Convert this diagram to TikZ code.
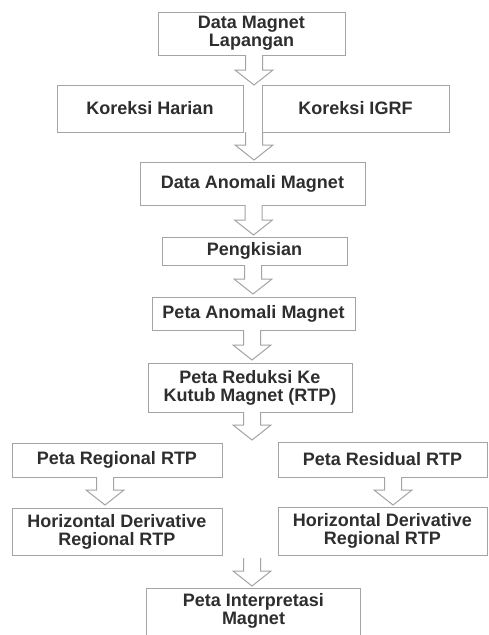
\documentclass[tikz,border=0pt]{standalone}
\usepackage{fontspec}
\setmainfont{Liberation Sans}
\usetikzlibrary{calc}
\definecolor{txt}{HTML}{2E2E2E}
\definecolor{edge}{HTML}{A4A4A4}
\newcommand\blockarrow[2]{%
  \draw[barrow] let \p1=(#1), \p2=(#2) in
    (\x1-8.5pt,\y1) -- (\x1-8.5pt,\y2+15pt) -- (\x1-19pt,\y2+15pt) --
    (\x1,\y2) -- (\x1+19pt,\y2+15pt) -- (\x1+8.5pt,\y2+15pt) --
    (\x1+8.5pt,\y1);}
\begin{document}
\begin{tikzpicture}[x=1pt,y=-1pt,
  box/.style={draw=edge, line width=1pt, fill=white, text=txt,
    font=\fontsize{18}{18}\selectfont\bfseries, align=center, inner sep=0pt},
  boxline/.style={draw=edge, line width=1pt},
  barrow/.style={draw=edge, line width=1pt, fill=white, line join=miter}]
\useasboundingbox (0,0) rectangle (489,635);
\fill[white] (0,0) rectangle (489,635);

\node[box, minimum width=187pt, minimum height=43pt] (b1) at (251.5,33.5) {Data Magnet\\Lapangan};
\node[box, minimum width=186pt, minimum height=47pt] (b2) at (150,108.5) {Koreksi Harian};
\node[box, minimum width=187pt, minimum height=47pt] (b3) at (355.5,108.5) {Koreksi IGRF};
\node[box, minimum width=225pt, minimum height=43pt] (b4) at (252.5,183.5) {Data Anomali Magnet};
\node[box, minimum width=185pt, minimum height=28pt] (b5) at (254.5,251) {Pengkisian};
\node[box, minimum width=203pt, minimum height=33pt] (b6) at (253.5,313.5) {Peta Anomali Magnet};
\node[box, minimum width=204pt, minimum height=49pt] (b7) at (250,387.5) {Peta Reduksi Ke\\Kutub Magnet (RTP)};
\node[box, minimum width=210pt, minimum height=34pt] (b8) at (117,460) {Peta Regional RTP};
\node[box, minimum width=209pt, minimum height=35pt] (b9) at (382.5,459.5) {Peta Residual RTP};
\node[box, minimum width=210pt, minimum height=47pt] (b10) at (117,531.5) {Horizontal Derivative\\Regional RTP};
\node[box, minimum width=209pt, minimum height=48pt] (b11) at (382.5,531) {Horizontal Derivative\\Regional RTP};
\node[box, draw=none, minimum width=213pt, minimum height=44pt] (b12) at (253.5,611) {Peta Interpretasi\\Magnet};
\draw[boxline] ($(b12.south west)+(0,8)$) -- (b12.north west) -- (b12.north east) -- ($(b12.south east)+(0,8)$);

\coordinate (a1s) at (254,55);   \coordinate (a1e) at (254,85);
\coordinate (a2s) at (254,132);  \coordinate (a2e) at (254,160);
\coordinate (a3s) at (253.5,205);\coordinate (a3e) at (253.5,235);
\coordinate (a4s) at (253,265);  \coordinate (a4e) at (253,294);
\coordinate (a5s) at (252,330);  \coordinate (a5e) at (252,360);
\coordinate (a6s) at (252,412);  \coordinate (a6e) at (252,440);
\coordinate (a7s) at (105,477);  \coordinate (a7e) at (105,505);
\coordinate (a8s) at (393,477);  \coordinate (a8e) at (393,505);
\coordinate (a9s) at (252,558);  \coordinate (a9e) at (252,586);

\blockarrow{a1s}{a1e}
\blockarrow{a2s}{a2e}
\blockarrow{a3s}{a3e}
\blockarrow{a4s}{a4e}
\blockarrow{a5s}{a5e}
\blockarrow{a6s}{a6e}
\blockarrow{a7s}{a7e}
\blockarrow{a8s}{a8e}
\blockarrow{a9s}{a9e}
\end{tikzpicture}
\end{document}
